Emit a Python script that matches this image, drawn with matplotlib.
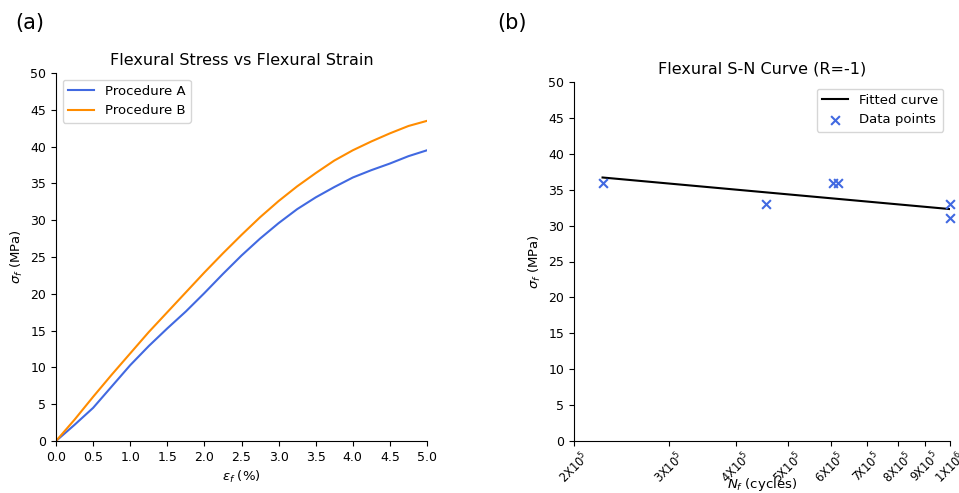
import matplotlib
matplotlib.use("Agg")
import matplotlib.pyplot as plt
from matplotlib.ticker import FixedLocator, NullLocator

# --- Panel (a) data ---
strain = [0.0, 0.25, 0.5, 0.75, 1.0, 1.25, 1.5, 1.75, 2.0, 2.25, 2.5,
          2.75, 3.0, 3.25, 3.5, 3.75, 4.0, 4.25, 4.5, 4.75, 5.0]
stress_a = [0.0, 2.2, 4.5, 7.4, 10.3, 12.9, 15.3, 17.6, 20.1, 22.7, 25.2,
            27.5, 29.6, 31.5, 33.1, 34.5, 35.8, 36.8, 37.7, 38.7, 39.5]
stress_b = [0.0, 2.9, 6.0, 9.0, 11.9, 14.8, 17.5, 20.2, 22.9, 25.5, 28.0,
            30.4, 32.6, 34.6, 36.4, 38.1, 39.5, 40.7, 41.8, 42.8, 43.5]

# --- Panel (b) data ---
cycles = [2.26e5, 4.55e5, 6.06e5, 6.19e5, 1.0e6, 1.0e6]
sn_stress = [36, 33, 36, 36, 33, 31]
fit_cycles = [2.26e5, 1.0e6]
fit_stress = [36.7, 32.3]
xtick_vals = [2e5, 3e5, 4e5, 5e5, 6e5, 7e5, 8e5, 9e5, 1e6]
xtick_labels = [r"2X10$^5$", r"3X10$^5$", r"4X10$^5$", r"5X10$^5$", r"6X10$^5$",
                r"7X10$^5$", r"8X10$^5$", r"9X10$^5$", r"1X10$^6$"]

fig = plt.figure(figsize=(9.59, 4.93), dpi=100)

ax1 = fig.add_axes([56/959, 52/493, 371/959, 368/493])
ax1.plot(strain, stress_a, color="royalblue", lw=1.5, label="Procedure A")
ax1.plot(strain, stress_b, color="darkorange", lw=1.5, label="Procedure B")
ax1.set_xlim(0, 5)
ax1.set_ylim(0, 50)
ax1.set_xticks([0.0, 0.5, 1.0, 1.5, 2.0, 2.5, 3.0, 3.5, 4.0, 4.5, 5.0])
ax1.set_yticks(range(0, 51, 5))
ax1.tick_params(labelsize=9)
ax1.set_xlabel(r"$\varepsilon_f$ (%)", fontsize=9.5)
ax1.set_ylabel(r"$\sigma_f$ (MPa)", fontsize=9.5)
ax1.set_title("Flexural Stress vs Flexural Strain", fontsize=11.5)
ax1.legend(loc="upper left", fontsize=9.5)
for s in ("top", "right"):
    ax1.spines[s].set_visible(False)

ax2 = fig.add_axes([574/959, 52/493, 376/959, 359/493])
ax2.plot(fit_cycles, fit_stress, color="black", lw=1.5, label="Fitted curve")
ax2.scatter(cycles, sn_stress, marker="x", color="royalblue", s=40,
            label="Data points", clip_on=False, zorder=3)
ax2.set_xscale("log")
ax2.set_xlim(2e5, 1e6)
ax2.set_ylim(0, 50)
ax2.xaxis.set_major_locator(FixedLocator(xtick_vals))
ax2.xaxis.set_minor_locator(NullLocator())
ax2.set_xticklabels(xtick_labels, rotation=45, fontsize=8.3)
ax2.tick_params(axis="x", pad=2)
ax2.set_yticks(range(0, 51, 5))
ax2.tick_params(axis="y", labelsize=9)
ax2.set_xlabel(r"$N_f$ (cycles)", fontsize=9.5)
ax2.xaxis.set_label_coords(0.5, -0.098)
ax2.set_ylabel(r"$\sigma_f$ (MPa)", fontsize=9.5)
ax2.set_title("Flexural S-N Curve (R=-1)", fontsize=11.5)
ax2.legend(loc="upper right", fontsize=9.5)
for s in ("top", "right"):
    ax2.spines[s].set_visible(False)

fig.text(15/959, 1 - 29/493, "(a)", fontsize=15)
fig.text(497/959, 1 - 29/493, "(b)", fontsize=15)

fig.savefig("out.png", dpi=100)
